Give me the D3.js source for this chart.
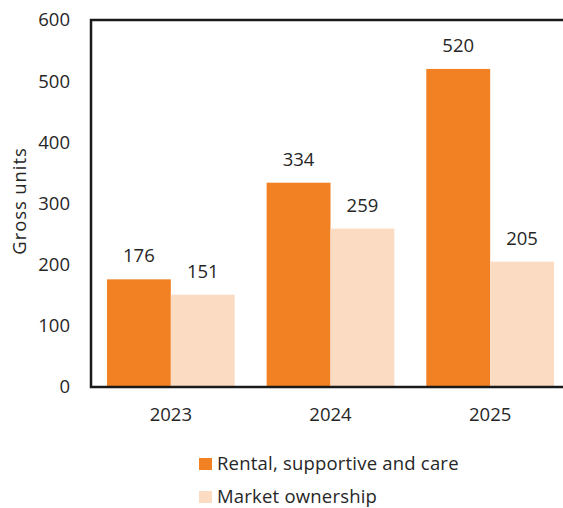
<!DOCTYPE html>
<html><head><meta charset="utf-8">
<script src="https://cdn.jsdelivr.net/npm/d3@7"></script>
<style>body{margin:0;background:#fff}svg{display:block}text{font-family:"Open Sans",sans-serif;fill:#262626}</style>
</head><body><svg width="563" height="508"></svg>
<script>
const years = ["2023","2024","2025"];
const seriesNames = ["Rental, supportive and care","Market ownership"];
const rental = [176,334,520];
const market = [151,259,205];
const yTicks = [0,100,200,300,400,500,600];
const colors = ["#F28123","#FBDCC3"];

const FS = 18.5;
const svg = d3.select("svg");
const m = {l:91, t:20, b:387, r:570};
const x = d3.scaleBand().domain(years).range([m.l, m.r]).paddingInner(0.2).paddingOuter(0.1);
const xs = d3.scaleBand().domain([0,1]).range([0, x.bandwidth()]);
const y = d3.scaleLinear().domain([0,600]).range([m.b, m.t]);

const series = [rental, market];
series.forEach((vals, si) => {
  svg.selectAll(null).data(years).enter().append("rect")
    .attr("x", d => x(d) + xs(si)).attr("width", xs.bandwidth())
    .attr("y", (d,i) => y(vals[i])).attr("height", (d,i) => y(0) - y(vals[i]))
    .attr("fill", colors[si]);
  svg.selectAll(null).data(years).enter().append("text")
    .attr("x", d => x(d) + xs(si) + xs.bandwidth()/2)
    .attr("y", (d,i) => y(vals[i]) - 17)
    .attr("text-anchor","middle").attr("font-size",FS)
    .text((d,i) => vals[i]);
});

// frame
svg.append("rect").attr("x", m.l).attr("y", m.t).attr("width", m.r - m.l).attr("height", m.b - m.t)
  .attr("fill","none").attr("stroke","#1a1a1a").attr("stroke-width",2.5);

const ya = svg.append("g").attr("transform",`translate(${m.l},0)`)
  .call(d3.axisLeft(y).tickValues(yTicks).tickSize(0).tickPadding(21));
ya.select(".domain").remove();
ya.selectAll("text").attr("font-size",FS).attr("fill","#262626").attr("font-family","Open Sans, sans-serif");

const xa = svg.append("g").attr("transform",`translate(0,${m.b})`)
  .call(d3.axisBottom(x).tickSize(0).tickPadding(21));
xa.select(".domain").remove();
xa.selectAll("text").attr("font-size",FS).attr("fill","#262626").attr("font-family","Open Sans, sans-serif");

svg.append("text").attr("transform","translate(26,201) rotate(-90)")
  .attr("text-anchor","middle").attr("font-size",FS).attr("letter-spacing",0.9).text("Gross units");

const lg = svg.append("g");
seriesNames.forEach((n,i) => {
  const yy = 464 + i*33;
  lg.append("rect").attr("x",199).attr("y",yy-6).attr("width",13).attr("height",12).attr("fill",colors[i]);
  lg.append("text").attr("x",217).attr("y",yy).attr("dy","0.35em").attr("font-size",FS).attr("letter-spacing",0.2).text(n);
});
</script></body></html>
